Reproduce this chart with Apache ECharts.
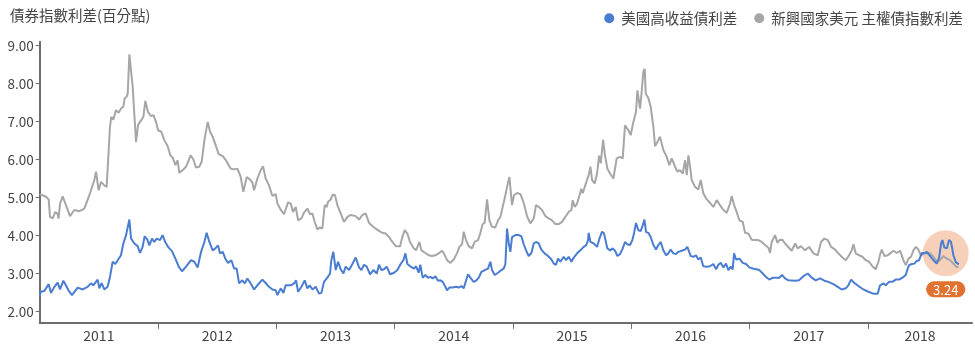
<!DOCTYPE html>
<html>
<head>
<meta charset="utf-8">
<script src="https://cdn.jsdelivr.net/npm/echarts@6/dist/echarts.min.js"></script>
<style>
html,body{margin:0;padding:0;background:#fff;}
#chart{width:975px;height:348px;}
</style>
</head>
<body>
<div id="chart"></div>
<script>
// ---- data (x = decimal year, y = spread in percentage points) ----
const titleText = '債券指數利差(百分點)';
const hyName = '美國高收益債利差';
const emName = '新興國家美元 主權債指數利差';
const yearLabels = ['2011','2012','2013','2014','2015','2016','2017','2018'];
const yTicks = [2, 3, 4, 5, 6, 7, 8, 9];
const xStart = 2011.0;
const xEnd = 2018.88;
const highlight = [2018.658, 3.53];

const emSpread = [
[2011.000,5.09],[2011.053,5.02],[2011.076,4.95],[2011.087,4.49],[2011.110,4.45],[2011.132,4.62],[2011.149,4.58],[2011.160,4.45],
[2011.172,4.84],[2011.194,5.03],[2011.222,4.80],[2011.256,4.51],[2011.293,4.67],[2011.335,4.64],[2011.377,4.71],[2011.420,5.06],
[2011.462,5.46],[2011.476,5.68],[2011.490,5.63],[2011.498,5.19],[2011.518,5.41],[2011.546,5.32],[2011.566,5.28],[2011.594,6.86],
[2011.605,7.12],[2011.622,7.05],[2011.645,7.30],[2011.667,7.23],[2011.687,7.34],[2011.707,7.39],[2011.718,7.61],[2011.735,7.65],
[2011.744,7.74],[2011.758,8.77],[2011.786,7.91],[2011.814,6.46],[2011.831,6.90],[2011.848,6.99],[2011.876,7.12],[2011.893,7.54],
[2011.915,7.25],[2011.941,7.14],[2011.961,7.17],[2011.983,6.99],[2012.000,6.77],[2012.028,6.73],[2012.053,6.51],[2012.082,6.35],
[2012.104,6.11],[2012.124,6.05],[2012.147,5.85],[2012.166,5.98],[2012.180,5.65],[2012.209,5.72],[2012.237,5.81],[2012.259,5.98],
[2012.276,6.11],[2012.299,6.00],[2012.321,5.79],[2012.349,5.81],[2012.369,5.94],[2012.392,6.51],[2012.420,6.99],[2012.440,6.73],
[2012.462,6.60],[2012.490,6.35],[2012.513,6.14],[2012.547,6.09],[2012.575,5.98],[2012.592,5.88],
[2012.614,5.76],[2012.643,5.74],[2012.671,5.76],[2012.699,5.54],[2012.721,5.15],[2012.750,5.54],[2012.778,5.47],[2012.798,5.39],
[2012.812,5.19],[2012.840,5.50],[2012.868,5.72],[2012.888,5.82],[2012.910,5.50],[2012.938,5.32],[2012.967,5.04],[2012.995,5.09],
[2013.009,4.84],[2013.037,4.68],[2013.065,4.56],[2013.099,4.87],[2013.122,4.84],[2013.141,4.62],[2013.164,4.75],[2013.184,4.40],
[2013.212,4.45],[2013.234,4.60],[2013.262,4.71],[2013.285,4.56],[2013.305,4.58],[2013.324,4.36],[2013.347,4.16],[2013.367,4.21],
[2013.389,4.18],[2013.409,4.80],[2013.426,4.75],[2013.437,4.89],[2013.460,4.95],[2013.477,5.08],[2013.496,5.06],[2013.516,4.80],
[2013.544,4.58],[2013.572,4.36],[2013.601,4.49],[2013.629,4.54],[2013.671,4.51],[2013.699,4.42],[2013.727,4.54],[2013.756,4.58],
[2013.784,4.33],[2013.812,4.25],[2013.840,4.18],[2013.868,4.12],[2013.896,4.07],[2013.925,4.05],[2013.953,3.96],[2013.981,3.83],
[2014.009,3.72],[2014.046,3.72],[2014.065,3.96],[2014.085,4.14],[2014.108,4.05],[2014.130,3.83],[2014.158,3.68],[2014.181,3.61],
[2014.209,3.83],[2014.226,3.61],[2014.260,3.54],[2014.288,3.48],[2014.316,3.46],[2014.344,3.48],[2014.372,3.53],[2014.401,3.60],
[2014.420,3.51],[2014.443,3.35],[2014.471,3.28],[2014.499,3.37],[2014.527,3.53],[2014.547,3.70],[2014.570,3.77],[2014.584,4.10],
[2014.603,3.88],[2014.626,3.72],[2014.654,3.66],[2014.677,3.84],[2014.705,3.88],[2014.725,4.07],[2014.744,4.30],[2014.761,4.33],
[2014.781,4.95],[2014.801,4.40],[2014.823,4.23],[2014.851,4.21],[2014.874,4.40],[2014.894,4.49],[2014.913,4.75],[2014.936,5.06],
[2014.950,5.28],[2014.970,5.54],[2014.992,4.80],[2015.009,5.06],[2015.035,5.12],[2015.063,5.09],[2015.091,4.86],[2015.119,4.51],
[2015.147,4.32],[2015.176,4.45],[2015.195,4.80],[2015.218,4.75],[2015.246,4.67],[2015.274,4.51],[2015.302,4.45],[2015.330,4.40],
[2015.359,4.30],[2015.387,4.30],[2015.415,4.36],[2015.443,4.49],[2015.471,4.62],[2015.494,4.67],[2015.505,4.93],[2015.522,4.75],
[2015.542,4.84],[2015.561,5.04],[2015.578,5.23],[2015.590,5.11],[2015.607,5.28],[2015.626,5.46],[2015.640,5.59],[2015.655,5.81],
[2015.669,5.46],[2015.691,5.37],[2015.711,5.63],[2015.728,6.10],[2015.742,5.90],[2015.762,6.52],[2015.776,6.15],
[2015.798,5.76],[2015.821,5.63],[2015.849,5.50],[2015.877,6.03],[2015.905,6.07],[2015.928,6.03],[2015.947,6.90],[2015.976,6.77],
[2015.995,6.64],[2016.018,6.99],[2016.040,7.25],[2016.052,7.82],[2016.074,7.34],[2016.088,7.78],[2016.102,8.31],[2016.114,8.39],
[2016.122,7.74],[2016.145,7.61],[2016.164,7.39],[2016.187,6.86],[2016.201,6.35],[2016.221,6.46],[2016.243,6.60],[2016.271,6.25],
[2016.300,6.07],[2016.322,5.85],[2016.342,6.03],[2016.370,5.81],[2016.390,5.68],[2016.412,5.72],[2016.435,5.63],[2016.455,5.98],
[2016.469,5.59],[2016.483,6.11],[2016.497,5.81],[2016.511,5.46],[2016.539,5.28],[2016.567,5.21],[2016.587,5.46],[2016.609,5.11],
[2016.638,4.95],[2016.666,4.86],[2016.694,4.75],[2016.722,4.93],[2016.750,4.80],[2016.779,4.67],[2016.807,4.60],[2016.835,4.84],
[2016.849,5.04],[2016.869,4.80],[2016.891,4.62],[2016.914,4.40],[2016.942,4.36],[2016.962,4.07],[2016.990,4.05],[2017.018,3.89],
[2017.046,3.88],[2017.074,3.88],[2017.103,3.83],[2017.131,3.75],[2017.159,3.68],[2017.173,3.54],[2017.187,3.83],[2017.215,4.01],
[2017.235,3.81],[2017.258,3.89],[2017.280,3.88],[2017.300,3.79],
[2017.356,3.60],[2017.385,3.79],[2017.407,3.66],[2017.435,3.72],[2017.469,3.61],[2017.503,3.70],[2017.540,3.53],[2017.576,3.48],
[2017.604,3.83],[2017.632,3.92],[2017.661,3.88],[2017.689,3.70],[2017.723,3.63],[2017.751,3.53],[2017.785,3.42],[2017.813,3.35],
[2017.841,3.48],[2017.864,3.61],[2017.878,3.77],[2017.897,3.53],[2017.926,3.48],[2017.954,3.44],[2017.982,3.35],[2018.010,3.31],
[2018.038,3.19],[2018.066,3.11],[2018.089,3.31],[2018.106,3.53],[2018.117,3.63],[2018.140,3.46],[2018.168,3.48],[2018.188,3.53],
[2018.216,3.60],[2018.244,3.54],[2018.272,3.60],[2018.300,3.35],[2018.320,3.22],[2018.343,3.39],[2018.365,3.44],[2018.385,3.61],
[2018.405,3.70],[2018.427,3.63],[2018.450,3.46],[2018.469,3.53],[2018.498,3.54],[2018.526,3.53],[2018.554,3.44],[2018.582,3.31],
[2018.610,3.35],[2018.638,3.46],[2018.667,3.39],[2018.695,3.35],[2018.723,3.26],[2018.751,3.16],[2018.765,3.18]
];

const hySpread = [
[2011.000,2.39],[2011.008,2.52],[2011.039,2.54],[2011.076,2.72],[2011.096,2.49],[2011.124,2.65],[2011.152,2.76],[2011.172,2.58],
[2011.200,2.81],[2011.228,2.65],[2011.250,2.52],[2011.273,2.43],[2011.321,2.63],[2011.363,2.58],[2011.405,2.65],[2011.434,2.74],
[2011.453,2.69],[2011.490,2.84],[2011.504,2.61],[2011.524,2.75],[2011.546,2.58],[2011.574,2.65],[2011.594,2.91],[2011.617,3.31],
[2011.639,3.25],[2011.659,3.35],[2011.687,3.48],[2011.707,3.79],[2011.730,4.01],[2011.758,4.42],[2011.772,3.92],[2011.800,3.79],
[2011.828,3.72],[2011.848,3.54],[2011.870,3.70],[2011.887,3.98],[2011.910,3.89],[2011.927,3.74],[2011.949,3.92],[2011.969,3.83],
[2011.989,3.92],[2012.017,3.88],[2012.039,4.01],[2012.062,3.82],[2012.090,3.68],[2012.118,3.59],[2012.147,3.39],[2012.175,3.18],
[2012.203,3.06],[2012.237,3.18],[2012.279,3.35],[2012.307,3.31],[2012.335,3.16],[2012.364,3.57],[2012.392,3.83],[2012.411,4.07],
[2012.434,3.83],[2012.462,3.61],[2012.485,3.66],[2012.507,3.74],[2012.524,3.53],[2012.547,3.57],[2012.569,3.39],[2012.592,3.28],
[2012.620,3.35],[2012.643,3.13],[2012.665,3.13],[2012.685,2.74],[2012.713,2.82],[2012.733,2.74],[2012.755,2.87],[2012.783,2.74],
[2012.812,2.58],[2012.840,2.69],[2012.882,2.84],[2012.910,2.75],[2012.938,2.65],[2012.967,2.58],[2012.995,2.56],[2013.009,2.43],
[2013.037,2.61],[2013.060,2.49],[2013.079,2.69],[2013.122,2.69],[2013.150,2.74],[2013.167,2.82],[2013.184,2.52],[2013.212,2.65],
[2013.240,2.82],[2013.262,2.61],[2013.282,2.69],[2013.305,2.58],[2013.333,2.65],[2013.361,2.47],[2013.381,2.49],[2013.403,2.78],
[2013.431,2.89],[2013.454,3.00],[2013.465,3.35],[2013.482,3.57],[2013.502,3.09],[2013.522,3.31],[2013.544,3.11],[2013.567,3.00],
[2013.586,3.18],[2013.615,3.09],[2013.643,3.25],[2013.671,3.42],[2013.699,3.16],[2013.719,3.09],[2013.741,3.23],[2013.764,3.18],
[2013.792,2.98],[2013.820,3.09],[2013.849,3.00],[2013.868,3.23],[2013.888,3.09],[2013.910,3.11],[2013.933,3.18],[2013.961,2.98],
[2013.995,3.02],[2014.023,3.09],[2014.051,3.25],[2014.074,3.35],[2014.091,3.53],[2014.108,3.25],[2014.136,3.18],[2014.164,3.13],
[2014.181,3.19],[2014.203,3.02],[2014.217,3.23],[2014.237,2.89],[2014.260,2.96],[2014.282,2.89],[2014.302,2.91],[2014.322,2.87],
[2014.344,2.93],[2014.367,2.81],[2014.387,2.82],[2014.406,2.78],[2014.429,2.65],[2014.443,2.56],[2014.463,2.63],[2014.491,2.63],
[2014.519,2.65],[2014.541,2.63],[2014.564,2.67],[2014.584,2.61],[2014.603,2.81],[2014.620,2.98],[2014.640,2.89],[2014.668,2.78],
[2014.688,2.81],[2014.711,2.89],[2014.733,3.04],[2014.761,3.09],[2014.789,3.13],[2014.809,3.31],[2014.823,3.09],[2014.846,2.96],
[2014.874,3.02],[2014.902,3.09],[2014.922,3.13],[2014.936,3.25],[2014.950,4.18],[2014.964,3.81],[2014.978,3.57],[2014.992,3.96],
[2015.020,4.01],[2015.049,4.01],[2015.071,3.98],[2015.091,3.77],[2015.111,3.61],[2015.133,3.46],[2015.156,3.54],[2015.176,3.79],
[2015.195,3.83],[2015.218,3.79],[2015.240,3.63],[2015.268,3.53],[2015.297,3.46],[2015.325,3.37],[2015.345,3.26],[2015.364,3.23],
[2015.381,3.39],[2015.401,3.31],[2015.429,3.44],[2015.449,3.35],[2015.471,3.44],[2015.494,3.31],[2015.514,3.42],[2015.542,3.53],
[2015.570,3.61],[2015.598,3.70],[2015.618,3.74],[2015.635,3.88],[2015.640,4.07],[2015.655,3.83],[2015.683,3.79],[2015.711,3.70],
[2015.731,3.92],[2015.753,4.10],[2015.770,4.05],[2015.798,3.66],[2015.821,3.61],[2015.843,3.66],[2015.863,3.60],[2015.883,3.46],
[2015.905,3.51],[2015.928,3.66],[2015.947,3.83],[2015.967,3.77],[2015.990,3.75],[2016.009,3.88],[2016.023,4.05],[2016.040,4.33],
[2016.060,4.14],[2016.080,4.12],[2016.097,4.27],[2016.111,4.42],[2016.125,4.09],[2016.145,4.07],[2016.164,3.96],[2016.187,3.75],
[2016.209,3.63],[2016.229,3.75],[2016.249,3.83],[2016.271,3.61],[2016.294,3.48],[2016.314,3.53],[2016.333,3.63],[2016.356,3.53],
[2016.378,3.51],[2016.398,3.57],[2016.426,3.60],[2016.455,3.63],[2016.474,3.70],[2016.488,3.74],[2016.502,3.46],[2016.525,3.44],
[2016.547,3.48],[2016.567,3.37],[2016.587,3.42],[2016.609,3.19],[2016.638,3.18],[2016.666,3.19],[2016.694,3.25],[2016.717,3.11],
[2016.736,3.23],[2016.756,3.28],[2016.779,3.16],[2016.801,3.26],[2016.821,3.09],[2016.841,3.18],[2016.857,3.11],[2016.869,3.53],
[2016.886,3.37],[2016.914,3.39],[2016.942,3.28],[2016.970,3.25],[2016.998,3.16],[2017.027,3.13],[2017.055,3.11],[2017.083,3.09],
[2017.111,3.00],[2017.139,2.91],[2017.167,2.84],[2017.196,2.89],[2017.224,2.89],[2017.252,2.89],[2017.274,2.96],[2017.300,2.87],
[2017.328,2.82],[2017.385,2.81],[2017.418,2.82],[2017.455,2.93],[2017.492,3.00],[2017.525,2.89],[2017.559,2.82],[2017.596,2.87],
[2017.632,2.81],[2017.666,2.78],[2017.709,2.72],[2017.745,2.65],[2017.779,2.58],[2017.813,2.61],[2017.835,2.69],[2017.858,2.84],
[2017.886,2.75],[2017.920,2.67],[2017.962,2.58],[2018.004,2.52],[2018.047,2.47],[2018.083,2.47],[2018.103,2.69],[2018.131,2.74],
[2018.151,2.69],[2018.179,2.78],[2018.207,2.78],[2018.235,2.84],[2018.264,2.84],[2018.292,2.89],[2018.320,2.96],[2018.337,3.13],
[2018.348,3.22],[2018.371,3.25],[2018.393,3.26],[2018.413,3.33],[2018.433,3.35],[2018.455,3.54],[2018.478,3.53],[2018.498,3.57],
[2018.526,3.46],[2018.554,3.35],[2018.582,3.26],[2018.602,3.42],[2018.619,3.79],[2018.630,3.88],[2018.647,3.68],[2018.667,3.66],
[2018.686,3.88],[2018.703,3.83],[2018.723,3.48],[2018.743,3.30],[2018.768,3.24]
];

// ---- chart ----
const FONT = "'Noto Sans CJK TC','Noto Sans',sans-serif";
const BLUE = '#4a7dd1';
const GRAY = '#a6a6a6';
const lastHy = hySpread[hySpread.length - 1][1];

// label positions: centred between year boundaries
const yearStarts = yearLabels.map(y => Number(y));
const labelPos = yearStarts.map((s, i) => (s + Math.min(s + 1, xEnd)) / 2);
const tickPos = yearStarts.slice(1);

const chart = echarts.init(document.getElementById('chart'), null, {renderer: 'canvas'});
chart.setOption({
  animation: false,
  backgroundColor: '#fff',
  textStyle: {fontFamily: FONT},
  title: {
    text: titleText, left: 5, top: 3,
    textStyle: {fontSize: 14.5, fontWeight: 'normal', color: '#444', fontFamily: FONT}
  },
  legend: {
    right: 7, top: 6, icon: 'circle', itemWidth: 10, itemHeight: 10, itemGap: 17,
    data: [hyName, emName],
    textStyle: {fontSize: 14.5, color: '#444', fontFamily: FONT, padding: [0, 0, 0, 2]}
  },
  grid: {left: 39.7, right: 3, top: 41.7, bottom: 25.1, containLabel: false},
  xAxis: {
    type: 'value', min: xStart, max: xEnd,
    axisLine: {show: true, lineStyle: {color: '#6e6e6e', width: 2}},
    axisTick: {show: true, customValues: tickPos, length: 6, lineStyle: {color: '#6e6e6e', width: 1}},
    axisLabel: {
      customValues: labelPos, margin: 6, fontSize: 14, color: '#444', fontFamily: FONT,
      formatter: v => yearLabels[labelPos.findIndex(p => Math.abs(p - v) < 1e-6)] || ''
    },
    splitLine: {show: false}
  },
  yAxis: {
    type: 'value', min: 1.7, max: 9.1,
    axisLine: {show: true, lineStyle: {color: '#6e6e6e', width: 2}},
    axisTick: {show: true, customValues: yTicks, length: 4, lineStyle: {color: '#6e6e6e'}},
    axisLabel: {customValues: yTicks, margin: 6, fontSize: 13.5, color: '#444', fontFamily: FONT,
      formatter: v => v.toFixed(2)},
    splitLine: {show: false}
  },
  series: [
    {
      type: 'scatter', z: 1, silent: true,
      data: [highlight], symbol: 'circle', symbolSize: 46,
      itemStyle: {color: 'rgba(236,150,100,0.45)', opacity: 1},
      label: {
        show: true, position: 'bottom', distance: 5,
        formatter: () => lastHy.toFixed(2),
        backgroundColor: '#e0712f', color: '#fff', fontSize: 13, fontFamily: FONT,
        borderRadius: 8, padding: [1, 7, 0, 7], lineHeight: 15, opacity: 1
      }
    },
    {
      name: emName, type: 'line', z: 2, showSymbol: false, data: emSpread,
      lineStyle: {color: GRAY, width: 2}, itemStyle: {color: GRAY}
    },
    {
      name: hyName, type: 'line', z: 3, showSymbol: false, data: hySpread,
      lineStyle: {color: BLUE, width: 2}, itemStyle: {color: BLUE}
    }
  ]
});
</script>
</body>
</html>
